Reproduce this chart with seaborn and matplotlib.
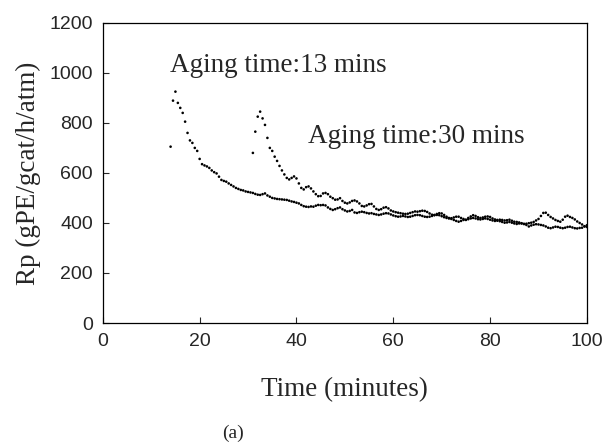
import numpy as np
import pandas as pd
import matplotlib
matplotlib.use("Agg")
import matplotlib.pyplot as plt
import seaborn as sns

# Rp, one value every 0.5 min
# aging time 13 mins: 14.0 .. 100.0 min
t_13 = np.arange(14.0, 100.01, 0.5)
rp_13 = [
    705, 889, 925, 880, 860, 840, 805, 760, 730, 720,   # 14.0
    700, 688, 656, 635, 630, 626, 620, 610, 603, 598,   # 19.0
    585, 572, 568, 565, 558, 552, 546, 540, 536, 532,   # 24.0
    530, 526, 524, 522, 520, 516, 513, 512, 515, 518,   # 29.0
    510, 505, 500, 498, 496, 495, 494, 493, 492, 489,   # 34.0
    486, 484, 481, 478, 472, 467, 465, 464, 466, 465,   # 39.0
    469, 472, 471, 472, 470, 462, 456, 452, 455, 459,   # 44.0
    462, 455, 450, 446, 448, 452, 442, 440, 443, 445,   # 49.0
    443, 440, 438, 439, 436, 434, 432, 434, 437, 439,   # 54.0
    438, 434, 430, 427, 425, 426, 428, 426, 424, 425,   # 59.0
    428, 431, 432, 431, 428, 425, 424, 425, 428, 431,   # 64.0
    432, 431, 427, 423, 420, 418, 416, 412, 408, 405,   # 69.0
    408, 412, 412, 415, 418, 420, 418, 415, 414, 416,   # 74.0
    418, 416, 413, 410, 408, 409, 407, 404, 401, 402,   # 79.0
    404, 401, 398, 396, 398, 399, 396, 392, 386, 390,   # 84.0
    393, 395, 394, 392, 390, 386, 381, 379, 382, 385,   # 89.0
    384, 381, 379, 381, 384, 385, 382, 379, 378, 380,   # 94.0
    381, 386, 391,                                      # 99.0
]

# aging time 30 mins: 31.0 .. 100.0 min
t_30 = np.arange(31.0, 100.01, 0.5)
rp_30 = [
    680, 765, 825, 845, 818, 792, 740, 700, 688, 665,   # 31.0
    648, 628, 610, 594, 580, 574, 580, 586, 578, 558,   # 36.0
    540, 534, 543, 546, 538, 526, 515, 507, 508, 518,   # 41.0
    520, 515, 505, 499, 493, 494, 499, 488, 481, 478,   # 46.0
    482, 488, 490, 486, 478, 468, 466, 470, 475, 476,   # 51.0
    466, 456, 452, 455, 461, 463, 458, 450, 446, 443,   # 56.0
    441, 439, 437, 436, 437, 440, 443, 446, 445, 447,   # 61.0
    449, 448, 444, 438, 433, 432, 436, 439, 438, 432,   # 66.0
    425, 420, 419, 422, 425, 425, 420, 416, 413, 420,   # 71.0
    426, 431, 428, 423, 420, 422, 425, 426, 424, 418,   # 76.0
    414, 412, 413, 412, 410, 411, 413, 409, 405, 404,   # 81.0
    402, 398, 396, 397, 399, 401, 404, 410, 416, 428,   # 86.0
    440, 441, 432, 424, 418, 412, 408, 405, 413, 425,   # 91.0
    429, 424, 420, 414, 406, 400, 394, 387, 384,        # 96.0
]

x_ticks = [0, 20, 40, 60, 80, 100]
y_ticks = [0, 200, 400, 600, 800, 1000, 1200]

df = pd.concat([
    pd.DataFrame({"time": t_13, "rp": rp_13, "aging": "13 mins"}),
    pd.DataFrame({"time": t_30, "rp": rp_30, "aging": "30 mins"}),
])

sns.set_style("ticks")
serif = ["Liberation Serif", "DejaVu Serif"]
sans = ["Liberation Sans", "DejaVu Sans"]

fig = plt.figure(figsize=(6.12, 4.48), dpi=100)
ax = fig.add_axes([0.168, 0.279, 0.791, 0.670])

sns.scatterplot(data=df, x="time", y="rp", hue="aging",
                palette=["black", "black"], s=3.5, linewidth=0,
                legend=False, ax=ax)

ax.set_xlim(0, 100)
ax.set_ylim(0, 1200)
ax.set_xticks(x_ticks)
ax.set_yticks(y_ticks)
ax.tick_params(direction="in", length=4, width=0.8, labelsize=14, pad=7)
for lab in ax.get_xticklabels() + ax.get_yticklabels():
    lab.set_family(sans)
for sp in ax.spines.values():
    sp.set_linewidth(0.9)
    sp.set_color("black")

ax.set_xlabel("Time (minutes)", family=serif, fontsize=19.5, labelpad=20)
ax.set_ylabel("Rp (gPE/gcat/h/atm)", family=serif, fontsize=19.5, labelpad=6)

ax.text(13.8, 1030, "Aging time:13 mins", family=serif, fontsize=19.5, va="center")
ax.text(42.4, 745, "Aging time:30 mins", family=serif, fontsize=19.5, va="center")

fig.text(0.38, 0.033, "(a)", family=serif, fontsize=14, ha="center", va="center")

fig.savefig("out.png", dpi=100)
